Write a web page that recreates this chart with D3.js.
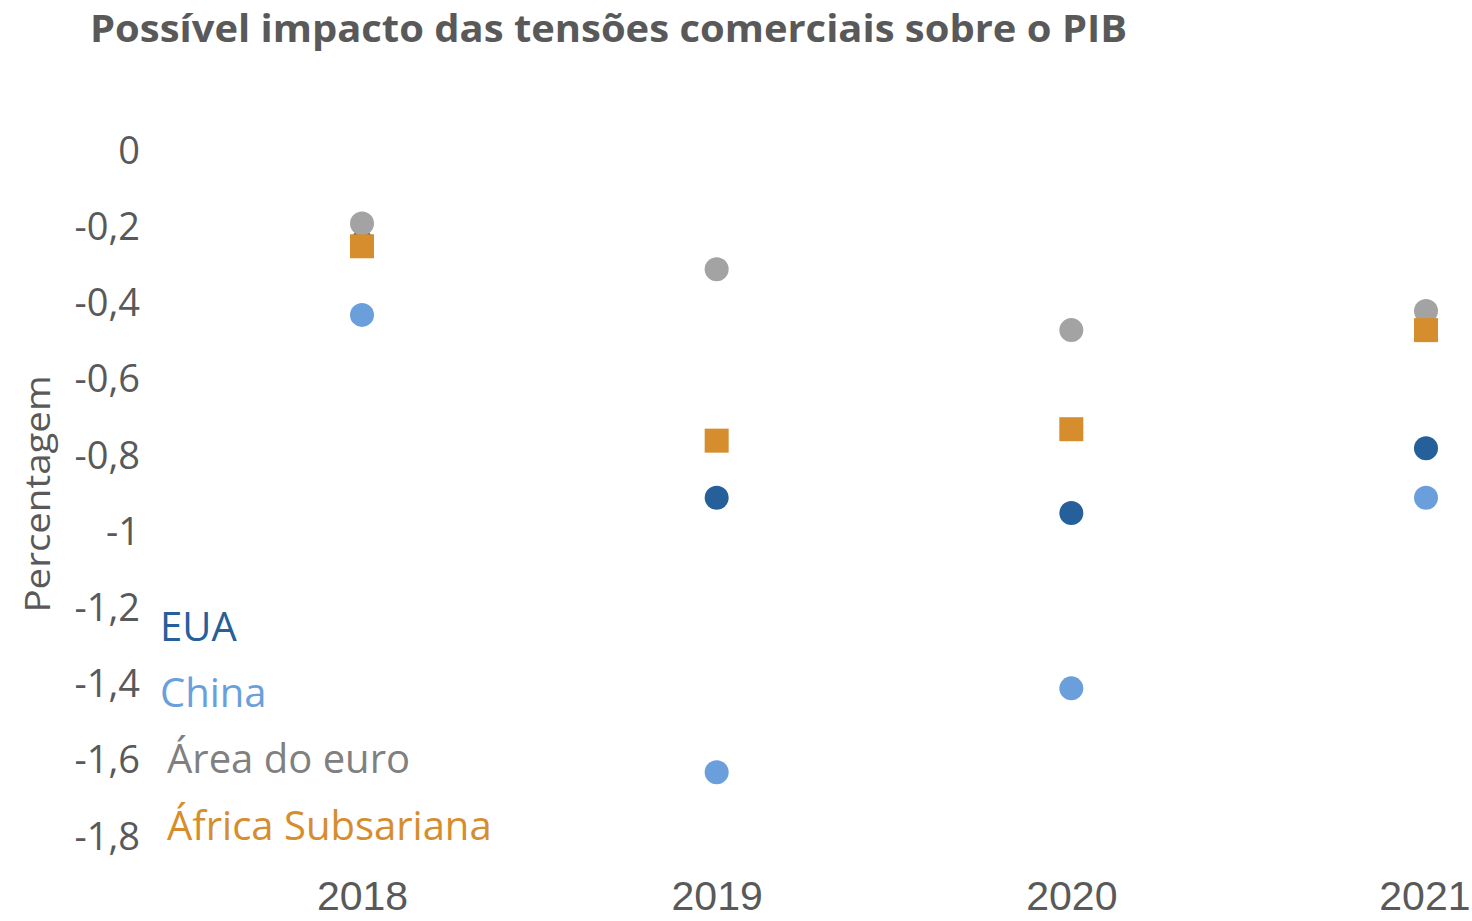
<!DOCTYPE html>
<html>
  <head>
    <meta charset="utf-8" />
    <title>Possível impacto das tensões comerciais sobre o PIB</title>
    <style type="text/css">
      html, body { margin: 0; padding: 0; background: #fff; }
      svg { display: block; font-family: "Open Sans", "Noto Sans", sans-serif; }
      .title { font-weight: bold; fill: #595959; }
      .tick text { fill: #595959; }
      .years text { fill: #595959; font-family: "Liberation Sans Narrow", "Liberation Sans", sans-serif; }
    </style>
  </head>
  <body>
    <svg id="chart" width="1472" height="921"></svg>

    <script type="text/javascript" src="https://cdn.jsdelivr.net/npm/d3@7/dist/d3.min.js"></script>
    <script type="text/javascript">

    // data
    var years = ['2018', '2019', '2020', '2021'];
    var eua = [-0.24, -0.91, -0.95, -0.78];
    var china = [-0.43, -1.63, -1.41, -0.91];
    var euro = [-0.19, -0.31, -0.47, -0.42];
    var africa = [-0.25, -0.76, -0.73, -0.47];
    var yTicks = [0, -0.2, -0.4, -0.6, -0.8, -1, -1.2, -1.4, -1.6, -1.8];

    var series = [
      { name: 'EUA', values: eua, color: '#26609a', text: '#26609a', shape: 'circle' },
      { name: 'China', values: china, color: '#6a9fdc', text: '#6a9fdc', shape: 'circle' },
      { name: 'Área do euro', values: euro, color: '#a3a3a3', text: '#808080', shape: 'circle' },
      { name: 'África Subsariana', values: africa, color: '#d68d2e', text: '#d68d2e', shape: 'square' }
    ];

    var svg = d3.select('#chart');

    var x = d3.scalePoint().domain(years).range([362, 1426]);
    var y = d3.scaleLinear().domain([0, -1.8]).range([151, 837]);

    svg.append('text')
       .attr('class', 'title')
       .attr('x', 90)
       .attr('y', 42)
       .attr('font-size', 38)
       .attr('textLength', 1037)
       .attr('lengthAdjust', 'spacingAndGlyphs')
       .text('Possível impacto das tensões comerciais sobre o PIB');

    var fmt = function(d) { return d3.format('')(d).replace('.', ',').replace('−', '-'); };

    var yAxis = svg.append('g')
       .attr('transform', 'translate(140,0)')
       .call(d3.axisLeft(y).tickValues(yTicks).tickFormat(fmt).tickSize(0).tickPadding(0));
    yAxis.select('.domain').remove();
    yAxis.selectAll('text').attr('font-size', 38).attr('font-family', '"Open Sans", sans-serif');

    svg.append('text')
       .attr('transform', 'translate(50,494) rotate(-90)')
       .attr('text-anchor', 'middle')
       .attr('font-size', 35)
       .attr('fill', '#595959')
       .attr('textLength', 237)
       .attr('lengthAdjust', 'spacingAndGlyphs')
       .text('Percentagem');

    var xAxis = svg.append('g')
       .attr('class', 'years')
       .attr('transform', 'translate(0,910)')
       .call(d3.axisBottom(x).tickSize(0).tickPadding(0));
    xAxis.select('.domain').remove();
    xAxis.selectAll('text').attr('dy', 0).attr('font-size', 41);
    xAxis.select('.tick:last-of-type text').attr('text-anchor', 'end').attr('dx', 44);

    series.forEach(function(s) {
      var pts = years.map(function(yr, i) { return { year: yr, v: s.values[i] }; })
                     .filter(function(d) { return d.v != null; });
      var g = svg.append('g');
      if (s.shape === 'circle') {
        g.selectAll('circle').data(pts).enter().append('circle')
         .attr('cx', function(d) { return x(d.year); })
         .attr('cy', function(d) { return y(d.v); })
         .attr('r', 12)
         .attr('fill', s.color);
      } else {
        g.selectAll('rect').data(pts).enter().append('rect')
         .attr('x', function(d) { return x(d.year) - 12; })
         .attr('y', function(d) { return y(d.v) - 12; })
         .attr('width', 24)
         .attr('height', 24)
         .attr('fill', s.color);
      }
    });

    // legend
    var legendPos = [[160, 641], [160, 707], [167, 773], [167, 840]];
    svg.append('g').selectAll('text').data(series).enter().append('text')
       .attr('x', function(d, i) { return legendPos[i][0]; })
       .attr('y', function(d, i) { return legendPos[i][1]; })
       .attr('font-size', 40)
       .attr('fill', function(d) { return d.text; })
       .text(function(d) { return d.name; });

    </script>
  </body>
</html>
